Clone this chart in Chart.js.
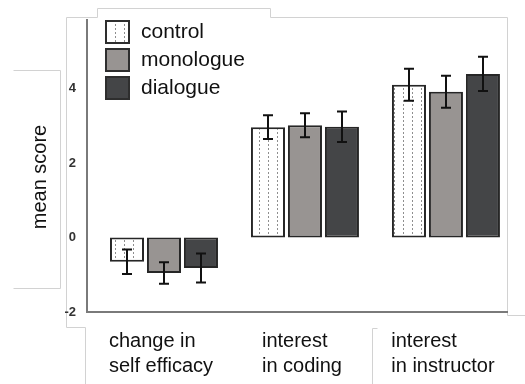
<!DOCTYPE html>
<html><head><meta charset="utf-8">
<script src="https://cdn.jsdelivr.net/npm/chart.js@4"></script>
<style>html,body{margin:0;padding:0;background:#fff}#wrap{width:525px;height:384px}</style>
</head><body><div id="wrap"><canvas id="c" width="525" height="384"></canvas></div>
<script>
const categories = [["change in","self efficacy"],["interest","in coding"],["interest","in instructor"]];
const seriesNames = ["control","monologue","dialogue"];
const controlMean = [-0.65, 2.97, 4.11];
const controlErr = [0.33, 0.32, 0.43];
const monologueMean = [-0.95, 3.02, 3.92];
const monologueErr = [0.29, 0.32, 0.43];
const dialogueMean = [-0.82, 2.98, 4.40];
const dialogueErr = [0.39, 0.41, 0.46];
const yTicks = [-2, 0, 2, 4];
const yTitle = "mean score";

const FONT = "'Liberation Sans', Arial, Helvetica, sans-serif";
const canvas = document.getElementById('c');
const ctx0 = canvas.getContext('2d');

function dottedPattern(){
  const c = document.createElement('canvas'); c.width = 9; c.height = 4;
  const g = c.getContext('2d');
  g.fillStyle = '#ffffff'; g.fillRect(0,0,9,4);
  g.fillStyle = '#8e8e8e'; g.fillRect(7,0,1,2);
  return ctx0.createPattern(c, 'repeat');
}
const fills = [dottedPattern(), '#989492', '#444547'];
const meansList = [controlMean, monologueMean, dialogueMean];
const errList = [controlErr, monologueErr, dialogueErr];

const datasets = seriesNames.map((name, k) => ({
  label: name,
  data: meansList[k].map((v, i) => ({x: i, y: v})),
  errs: errList[k],
  backgroundColor: fills[k],
  borderColor: '#262626',
  borderWidth: 2,
  borderSkipped: false,
  categoryPercentage: 0.787,
  barPercentage: 0.92
}));

const decorPlugin = {
  id: 'decor',
  beforeDraw(chart){
    const c = chart.ctx;
    c.save();
    c.strokeStyle = '#d2d2d2'; c.lineWidth = 1;
    const polys = [
      [[66,17],[97,17],[97,8],[270,8],[270,17],[507,17],[507,315],[525,315]],
      [[66,17],[66,327],[85,327],[85,384]],
      [[13,70],[60,70],[60,288],[13,288]],
      [[377,328],[372,328],[372,384]]
    ];
    polys.forEach(p => {
      c.beginPath();
      p.forEach((pt, i) => { const x = pt[0]+0.5, y = pt[1]+0.5; i ? c.lineTo(x,y) : c.moveTo(x,y); });
      c.stroke();
    });
    c.restore();
  }
};

const errPlugin = {
  id: 'errbars',
  afterDatasetsDraw(chart){
    const c = chart.ctx, ys = chart.scales.y;
    c.save();
    c.strokeStyle = '#111'; c.lineWidth = 2;
    chart.data.datasets.forEach((ds, k) => {
      const meta = chart.getDatasetMeta(k);
      meta.data.forEach((bar, i) => {
        const m = ds.data[i].y, e = ds.errs[i];
        const y1 = ys.getPixelForValue(m + e), y2 = ys.getPixelForValue(m - e);
        const x = Math.round(bar.x);
        c.beginPath();
        c.moveTo(x, y1); c.lineTo(x, y2);
        c.moveTo(x-5, y1); c.lineTo(x+5, y1);
        c.moveTo(x-5, y2); c.lineTo(x+5, y2);
        c.stroke();
      });
    });
    c.restore();
  }
};

const textPlugin = {
  id: 'texts',
  afterDraw(chart){
    const c = chart.ctx, a = chart.chartArea, xs = chart.scales.x;
    c.save();
    chart.data.datasets.forEach((ds, k) => {
      const bx = a.left + 19, by = a.top + 1 + k*28;
      c.fillStyle = ds.backgroundColor; c.fillRect(bx, by, 23, 22);
      c.strokeStyle = '#2e2e2e'; c.lineWidth = 2; c.strokeRect(bx, by, 23, 22);
      c.fillStyle = '#111'; c.font = '21px ' + FONT;
      c.textAlign = 'left'; c.textBaseline = 'middle';
      c.fillText(ds.label, bx + 35, by + 11);
    });
    c.font = '20px ' + FONT; c.fillStyle = '#111';
    c.textAlign = 'left'; c.textBaseline = 'middle';
    categories.forEach((lines, i) => {
      const px = xs.getPixelForValue(i);
      const w = Math.max(...lines.map(l => c.measureText(l).width));
      lines.forEach((l, j) => c.fillText(l, px - w/2 - 3, a.bottom + 29 + j*25));
    });
    c.translate(40, (a.top + a.bottom)/2 + 11);
    c.rotate(-Math.PI/2);
    c.textAlign = 'center'; c.textBaseline = 'middle';
    c.font = '20px ' + FONT;
    c.fillText(yTitle, 0, 0);
    c.restore();
  }
};

new Chart(canvas, {
  type: 'bar',
  data: { datasets },
  options: {
    responsive: false,
    animation: false,
    layout: { padding: { top: 20, right: 18, left: 0, bottom: 0 } },
    plugins: { legend: { display: false }, tooltip: { enabled: false } },
    scales: {
      x: {
        type: 'linear', min: -0.546, max: 2.433, offset: false, bounds: 'data',
        grid: { display: false, offset: false },
        border: { display: true, color: '#7a7a7a', width: 2 },
        ticks: { display: false },
        afterBuildTicks: s => { s.ticks = categories.map((c, i) => ({ value: i })); },
        afterFit: s => { s.height = 72; }
      },
      y: {
        min: -2, max: 5.85,
        grid: { display: false },
        border: { display: true, color: '#7a7a7a', width: 2 },
        ticks: { padding: 3, color: '#333', font: { size: 13, weight: 'bold', family: FONT } },
        afterBuildTicks: s => { s.ticks = yTicks.map(v => ({ value: v })); },
        afterFit: s => { s.width = 87; }
      }
    }
  },
  plugins: [decorPlugin, errPlugin, textPlugin]
});
</script>
</body></html>
